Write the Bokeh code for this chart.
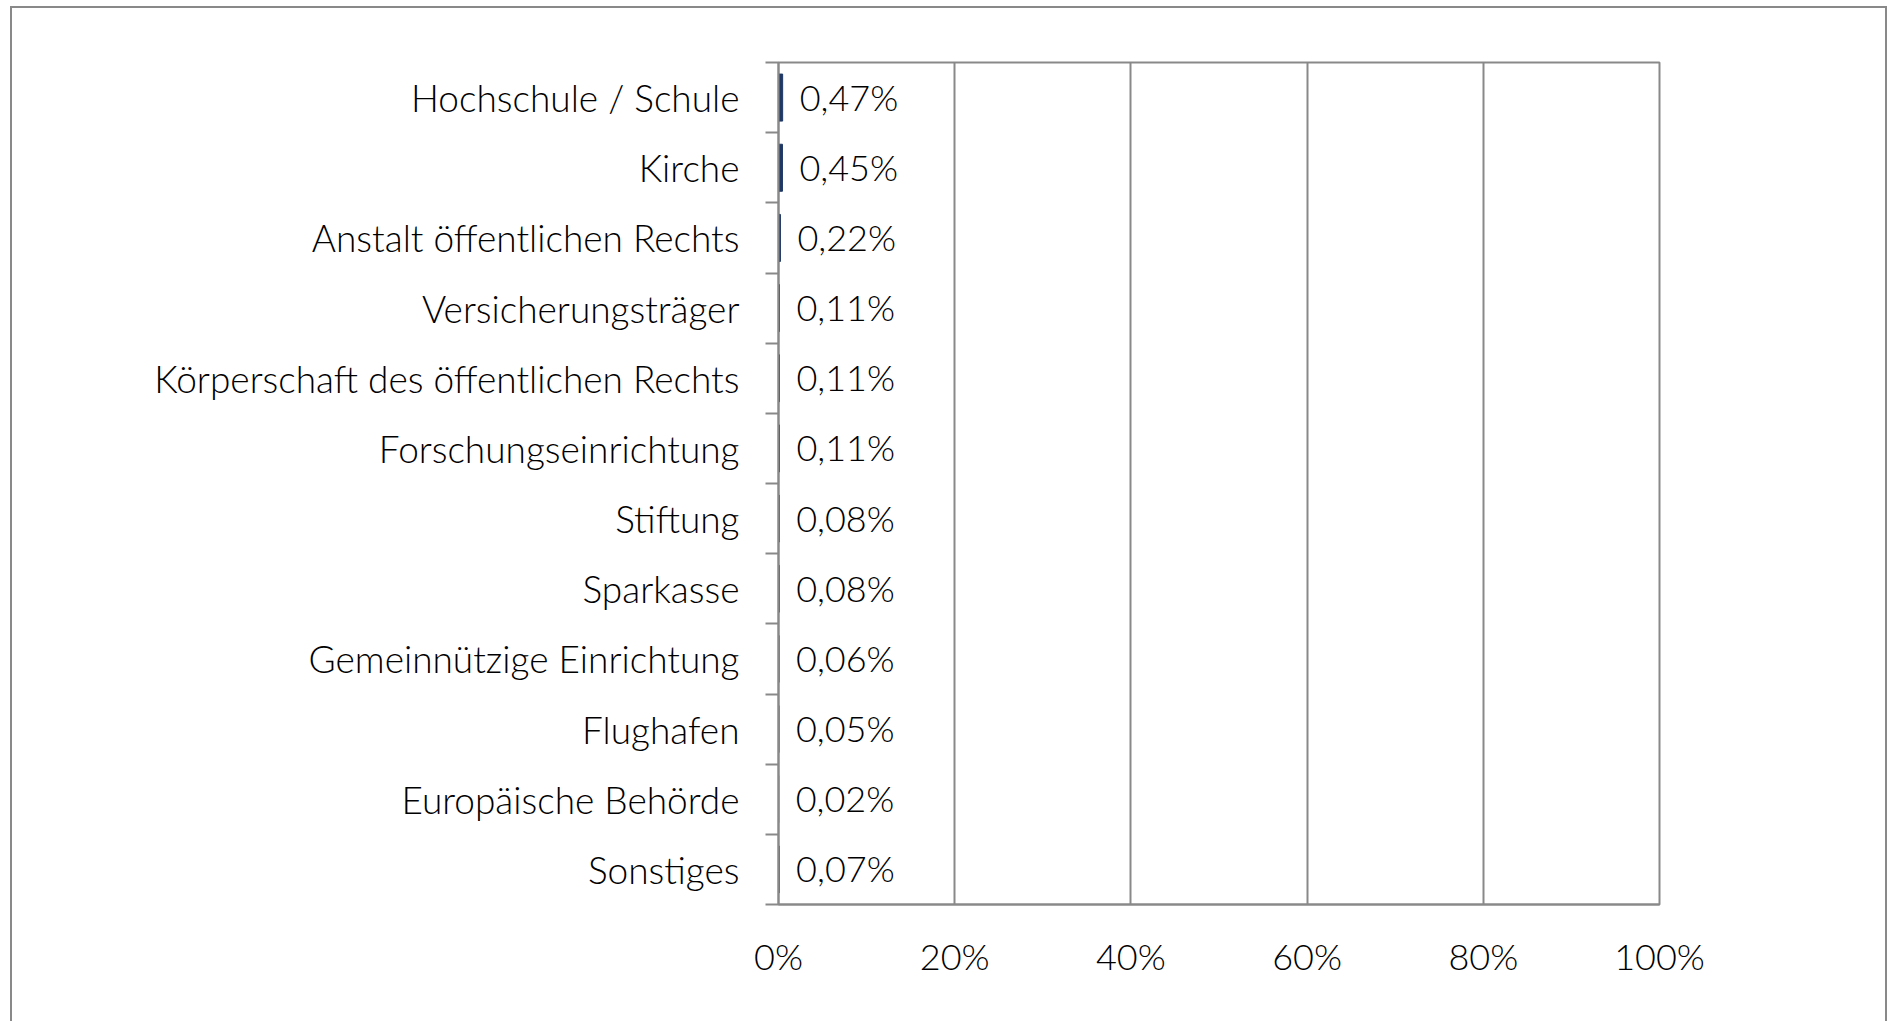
from bokeh.plotting import figure
from bokeh.models import (Range1d, LinearAxis, FixedTicker,
                          CustomJSTickFormatter, ColumnDataSource, PrintfTickFormatter)
from bokeh.core.properties import value
from bokeh.embed import file_html
from bokeh.resources import INLINE

categories = ["Hochschule / Schule", "Kirche", "Anstalt öffentlichen Rechts", "Versicherungsträger",
              "Körperschaft des öffentlichen Rechts", "Forschungseinrichtung", "Stiftung", "Sparkasse",
              "Gemeinnützige Einrichtung", "Flughafen", "Europäische Behörde", "Sonstiges"]
shares = [0.47, 0.45, 0.22, 0.11, 0.11, 0.11, 0.08, 0.08, 0.06, 0.05, 0.02, 0.07]
x_ticks = [0, 20, 40, 60, 80, 100]

n = len(categories)
pos = [i + 0.5 for i in range(n)]
labels = [f"{v:.2f}%".replace(".", ",") for v in shares]
src = ColumnDataSource(dict(pos=pos, cat=categories, share=shares, label=labels))

GRAY = "#898989"
TXT = "#000000"
FONT = "'Lato Light', Lato"
FS = "36px"

p = figure(y_range=Range1d(n, 0), x_range=Range1d(0, 100),
           frame_width=881, frame_height=842,
           min_border_left=766, min_border_right=226, min_border_top=54, min_border_bottom=117,
           y_axis_location=None, output_backend="svg", toolbar_location=None)
p.styles = {"margin-left": "10px", "margin-top": "6px",
            "border-left": "2px solid #898989", "border-top": "2px solid #898989",
            "border-right": "2px solid #898989"}

tick_axis = LinearAxis(ticker=FixedTicker(ticks=list(range(n + 1))),
                       formatter=CustomJSTickFormatter(code="return ''"),
                       major_tick_out=13, major_tick_in=0, minor_tick_line_color=None,
                       axis_line_color=GRAY, axis_line_width=2,
                       major_tick_line_color=GRAY, major_tick_line_width=2,
                       major_label_standoff=0)
cat_axis = LinearAxis(ticker=FixedTicker(ticks=pos),
                      formatter=CustomJSTickFormatter(args=dict(cats=categories),
                                                      code="return cats[Math.floor(tick)] || ''"),
                      axis_line_color=None, major_tick_line_color=None, minor_tick_line_color=None,
                      major_tick_out=0, major_tick_in=0, major_label_standoff=26,
                      major_label_text_font=FONT, major_label_text_font_size="37px",
                      major_label_text_color=TXT)
p.add_layout(tick_axis, "left")
p.add_layout(cat_axis, "left")

xa = p.xaxis[0]
xa.ticker = FixedTicker(ticks=x_ticks)
xa.formatter = PrintfTickFormatter(format="%d%%")
xa.axis_line_color = GRAY
xa.axis_line_width = 2
xa.major_tick_line_color = None
xa.minor_tick_line_color = None
xa.major_tick_out = 0
xa.major_tick_in = 0
xa.major_label_standoff = 29
xa.major_label_text_font = FONT
xa.major_label_text_font_size = FS
xa.major_label_text_color = TXT

p.xgrid.grid_line_color = GRAY
p.xgrid.grid_line_width = 2
p.ygrid.grid_line_color = None
p.outline_line_color = GRAY
p.outline_line_width = 2

p.hbar(y="pos", right="share", left=0, height=0.67, color="#1f3864", source=src)
p.text(x="share", y="pos", text="label", x_offset=17, y_offset=-1, text_baseline="middle",
       text_align="left", text_font=value(FONT), text_font_size=FS, text_color=TXT, source=src)

open("out.html", "w").write(file_html(p, INLINE))
